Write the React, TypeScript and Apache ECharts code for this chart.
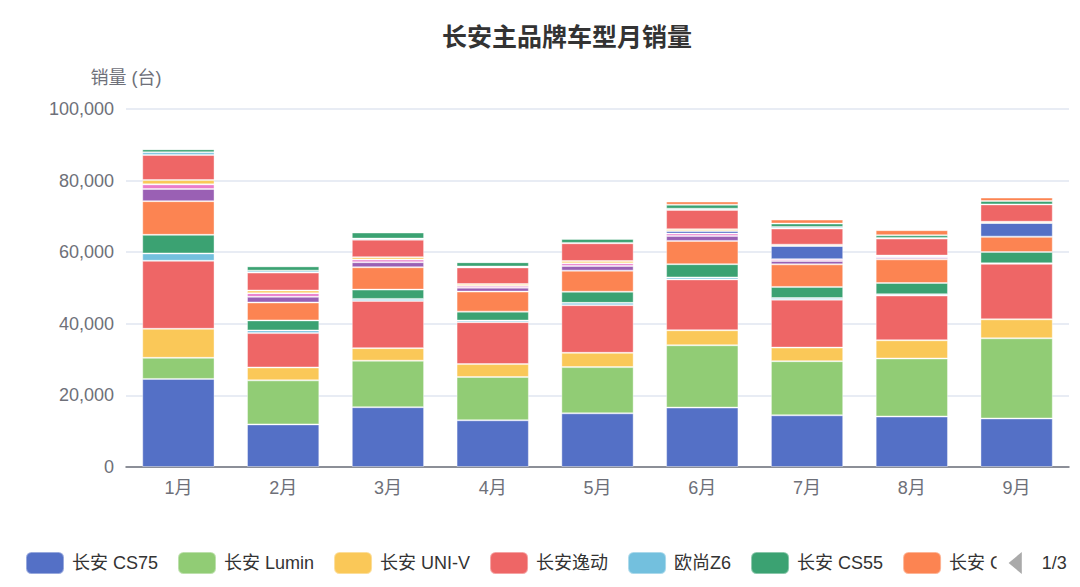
import React, { useEffect, useRef } from "react";
import * as echarts from "echarts";

const months = ["1月", "2月", "3月", "4月", "5月", "6月", "7月", "8月", "9月"];

const seriesNames = [
  "长安 CS75",
  "长安 Lumin",
  "长安 UNI-V",
  "长安逸动",
  "欧尚Z6",
  "长安 CS55",
  "长安 CS35PLUS",
  "长安 UNI-T",
  "长安 CS85",
  "长安逸达",
  "长安奔奔E-Star",
  "长安 UNI-K iDD",
  "长安 UNI-K",
  "长安 CS95",
  "长安锐程PLUS",
  "长安 UNI-V iDD",
];

const cs75 = [24600, 11900, 16700, 13050, 15000, 16600, 14450, 14100, 13550];
const lumin = [5900, 12300, 13000, 12100, 12900, 17400, 15100, 16200, 22400];
const univ = [8100, 3600, 3500, 3600, 4000, 4200, 3800, 5100, 5300];
const yidong = [19000, 9600, 13200, 11700, 13300, 14200, 13400, 12500, 15500];
const oushangZ6 = [2050, 750, 550, 450, 650, 550, 450, 350, 150];
const cs55 = [5200, 2800, 2600, 2500, 3100, 3700, 3100, 3150, 3150];
const cs35 = [9400, 5000, 6250, 5600, 5900, 6500, 6300, 6600, 4300];
const unit = [3400, 1600, 1400, 1100, 1300, 1400, 950, 450, 0];
const cs85 = [1300, 1000, 750, 550, 750, 650, 500, 400, 0];
const yida = [0, 0, 0, 0, 0, 750, 3700, 0, 3800];
const benben = [0, 0, 0, 0, 0, 0, 0, 0, 0];
const unikIdd = [1200, 750, 650, 450, 650, 450, 350, 200, 350];
const unik = [7000, 5000, 4900, 4650, 4950, 5400, 4500, 4750, 4850];
const cs95 = [750, 550, 300, 250, 100, 350, 450, 200, 0];
const ruicheng = [850, 1200, 1700, 1200, 1100, 1100, 950, 750, 950];
const univIdd = [0, 0, 0, 0, 300, 900, 1100, 1400, 950];

const seriesValues = [
  cs75, lumin, univ, yidong, oushangZ6, cs55, cs35, unit, cs85,
  yida, benben, unikIdd, unik, cs95, ruicheng, univIdd,
];

const palette = [
  "#5470c6", "#91cc75", "#fac858", "#ee6666", "#73c0de",
  "#3ba272", "#fc8452", "#9a60b4", "#ea7ccc",
];

const FONT = "'Liberation Sans', 'Noto Sans CJK SC', sans-serif";

export default function App() {
  const ref = useRef<HTMLDivElement>(null);

  useEffect(() => {
    if (!ref.current) return;
    const chart = echarts.init(ref.current, null, { renderer: "svg" });
    chart.setOption({
      animation: false,
      color: palette,
      textStyle: { fontFamily: FONT },
      title: {
        text: "长安主品牌车型月销量",
        left: "center",
        top: 19,
        textStyle: { fontSize: 25, fontWeight: "bold", color: "#333", fontFamily: FONT },
      },
      legend: {
        type: "scroll",
        left: 20,
        width: 1075,
        top: 546,
        padding: 5,
        itemWidth: 38,
        itemHeight: 22,
        itemGap: 19,
        textStyle: { fontSize: 18, color: "#333", fontFamily: FONT, padding: [0, 0, 0, 3] },
        pageIconSize: 22,
        pageButtonItemGap: 12,
        pageButtonGap: 12,
        pageIconColor: "#2f4554",
        pageIconInactiveColor: "#aaa",
        pageTextStyle: { fontSize: 18, color: "#333", fontFamily: FONT },
      },
      grid: { left: 126, right: 65, top: 109, bottom: 120 },
      xAxis: {
        type: "category",
        data: months,
        axisLine: { lineStyle: { color: "#6e7079", width: 1.5 } },
        axisTick: { length: 7, lineStyle: { width: 1.5 } },
        axisLabel: { fontSize: 18, color: "#6e7079", margin: 12, fontFamily: FONT },
      },
      yAxis: {
        type: "value",
        name: "销量 (台)",
        nameGap: 22,
        nameTextStyle: { fontSize: 18, color: "#6e7079", fontFamily: FONT },
        min: 0,
        max: 100000,
        interval: 20000,
        axisLabel: {
          fontSize: 18,
          color: "#6e7079",
          margin: 12,
          fontFamily: FONT,
          formatter: (v: number) => v.toLocaleString("en-US"),
        },
        splitLine: { lineStyle: { color: "#E0E6F1", width: 1.5 } },
      },
      series: seriesNames.map((name, i) => ({
        name,
        type: "bar",
        stack: "total",
        barWidth: "69%",
        itemStyle: { borderColor: "rgba(255,255,255,0.4)", borderWidth: 1 },
        data: seriesValues[i],
      })),
    });
    return () => chart.dispose();
  }, []);

  return (
    <div
      style={{
        position: "absolute",
        left: 0,
        top: 0,
        width: 1080,
        height: 587,
        overflow: "hidden",
        background: "#fff",
      }}
    >
      <div ref={ref} style={{ width: 1134, height: 587 }} />
    </div>
  );
}
